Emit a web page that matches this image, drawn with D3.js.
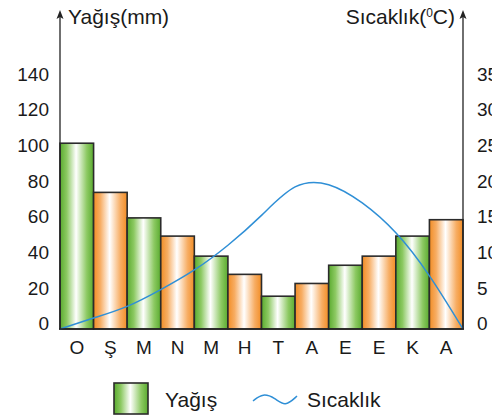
<!DOCTYPE html>
<html>
<head>
<meta charset="utf-8">
<script src="https://cdn.jsdelivr.net/npm/d3@7"></script>
<style>
  body { margin: 0; background: #fff; }
  svg { display: block; font-family: "Liberation Sans", Arial, sans-serif; }
</style>
</head>
<body>
<svg id="chart" width="492" height="419"></svg>
<script>
// months (Turkish initials, Oct -> Sep)
const months = ["O", "Ş", "M", "N", "M", "H", "T", "A", "E", "E", "K", "A"];
// precipitation (mm)
const rain = [102, 75, 61, 51, 40, 30, 18, 25, 35, 40, 51, 60];
// temperature (°C) at the month edges, 13 points
const temp = [0, 1.5, 3.1, 5.4, 8.1, 11.5, 15.6, 19.5, 19.8, 17.3, 13.2, 7.3, 0];
const rainTicks = [0, 20, 40, 60, 80, 100, 120, 140];
const tempTicks = [0, 5, 10, 15, 20, 25, 30, 35];

const width = 492, height = 419;
const plotL = 60, plotR = 463, base = 329, plotT = 74;

const svg = d3.select("#chart");

const x = d3.scaleBand().domain(d3.range(months.length)).range([plotL, plotR]).padding(0);
const xEdge = d3.scaleLinear().domain([0, months.length]).range([plotL, plotR]);
const yRain = d3.scaleLinear().domain([0, 140]).range([base, plotT]);
const yTemp = d3.scaleLinear().domain([0, 35]).range([base, plotT]);

// gradients
const defs = svg.append("defs");
function grad(id, edge, mid) {
  const g = defs.append("linearGradient").attr("id", id)
    .attr("x1", "0%").attr("x2", "100%").attr("y1", "0%").attr("y2", "0%");
  g.append("stop").attr("offset", "0%").attr("stop-color", edge);
  g.append("stop").attr("offset", "20%").attr("stop-color", mid);
  g.append("stop").attr("offset", "48%").attr("stop-color", "#ffffff");
  g.append("stop").attr("offset", "80%").attr("stop-color", mid);
  g.append("stop").attr("offset", "100%").attr("stop-color", edge);
}
grad("gGreen", "#5aab2f", "#8cc962");
grad("gOrange", "#f28d25", "#f7ad63");

// bars
svg.append("g").selectAll("rect")
  .data(rain)
  .join("rect")
  .attr("x", (d, i) => x(i))
  .attr("y", d => yRain(d))
  .attr("width", x.bandwidth())
  .attr("height", d => base - yRain(d))
  .attr("fill", (d, i) => i % 2 === 0 ? "url(#gGreen)" : "url(#gOrange)")
  .attr("stroke", "#2b2b2b")
  .attr("stroke-width", 1.6);

// temperature curve
const line = d3.line()
  .x((d, i) => xEdge(i))
  .y(d => yTemp(d))
  .curve(d3.curveNatural);

svg.append("path")
  .datum(temp)
  .attr("d", line)
  .attr("fill", "none")
  .attr("stroke", "#2f8fd6")
  .attr("stroke-width", 1.5);

// axis lines with arrow heads
[plotL, plotR].forEach(ax => {
  svg.append("line").attr("x1", ax).attr("x2", ax).attr("y1", base).attr("y2", 16)
    .attr("stroke", "#222").attr("stroke-width", 1.3);
  svg.append("path")
    .attr("d", `M${ax},10 L${ax + 3.5},19 L${ax},17 L${ax - 3.5},19 Z`)
    .attr("fill", "#222");
});
svg.append("line").attr("x1", plotL - 1).attr("x2", plotR + 1).attr("y1", base).attr("y2", base)
  .attr("stroke", "#222").attr("stroke-width", 1.6);

// tick labels
const leftAxis = d3.axisLeft(yRain).tickValues(rainTicks).tickSize(0).tickPadding(11);
const gl = svg.append("g").attr("transform", `translate(${plotL},0)`).call(leftAxis);
gl.select(".domain").remove();
gl.selectAll("text").attr("font-size", 19).attr("fill", "#1a1a1a")
  .attr("font-family", "Liberation Sans, Arial, sans-serif")
  .attr("dy", d => (0.32 - (140 - d) / 140 * 0.28) + "em");

const rightAxis = d3.axisRight(yTemp).tickValues(tempTicks).tickSize(0).tickPadding(14);
const gr = svg.append("g").attr("transform", `translate(${plotR},0)`).call(rightAxis);
gr.select(".domain").remove();
gr.selectAll("text").attr("font-size", 19).attr("fill", "#1a1a1a")
  .attr("font-family", "Liberation Sans, Arial, sans-serif")
  .attr("dy", d => (0.32 - (35 - d) / 35 * 0.28) + "em");

// month labels
svg.append("g").selectAll("text")
  .data(months)
  .join("text")
  .attr("x", (d, i) => x(i) + x.bandwidth() / 2)
  .attr("y", 354)
  .attr("text-anchor", "middle")
  .attr("font-size", 19)
  .attr("fill", "#1a1a1a")
  .text(d => d);

// axis titles
svg.append("text").attr("x", 68).attr("y", 24).attr("font-size", 21).attr("fill", "#1a1a1a")
  .text("Yağış(mm)");
const t2 = svg.append("text").attr("x", 455).attr("y", 24).attr("font-size", 21)
  .attr("fill", "#1a1a1a").attr("text-anchor", "end");
t2.append("tspan").text("Sıcaklık(");
t2.append("tspan").attr("font-size", 12).attr("dy", -7).text("0");
t2.append("tspan").attr("dy", 7).text("C)");

// legend
svg.append("rect").attr("x", 114).attr("y", 383).attr("width", 34).attr("height", 31)
  .attr("fill", "url(#gGreen)").attr("stroke", "#2b2b2b").attr("stroke-width", 1.6);
svg.append("text").attr("x", 165).attr("y", 407).attr("font-size", 21).attr("fill", "#1a1a1a")
  .text("Yağış");
svg.append("path")
  .attr("d", d3.line().curve(d3.curveBasis)([[253, 401], [263, 393], [275, 398], [285, 407], [297, 396]]))
  .attr("fill", "none").attr("stroke", "#2f8fd6").attr("stroke-width", 1.5);
svg.append("text").attr("x", 307).attr("y", 407).attr("font-size", 21).attr("fill", "#1a1a1a")
  .text("Sıcaklık");
</script>
</body>
</html>
